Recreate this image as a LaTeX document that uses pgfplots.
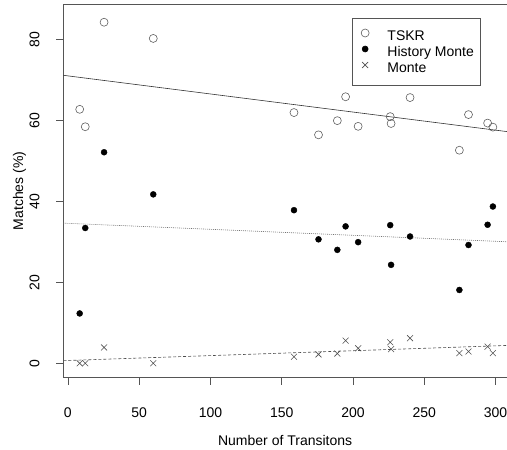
\documentclass[border=0pt]{standalone}
\usepackage{fontspec}
\setmainfont{Liberation Sans}
\usepackage{pgfplots}
\pgfplotsset{compat=1.18}

% point colours
\definecolor{circgray}{HTML}{606060}
\definecolor{crossgray}{HTML}{505050}
\definecolor{boxgray}{HTML}{555555}

\newcommand{\rfont}{\fontsize{14}{16}\selectfont}

\begin{document}
\begin{tikzpicture}
\useasboundingbox (-63.3pt,-72.3pt) rectangle (443.7pt,377.7pt);
\begin{axis}[
    at={(0,0)}, anchor=south west,
    scale only axis,
    width=443.7pt, height=373.7pt,
    xmin=-3.2, xmax=308,
    ymin=-3.56, ymax=88.7,
    xtick={0,50,...,300},
    ytick={0,20,...,80},
    tick pos=left,
    tick align=outside,
    major tick length=7pt,
    tick style={boxgray, line width=0.6pt},
    axis line style={boxgray, line width=0.8pt},
    /pgf/number format/assume math mode=true,
    ticklabel style={font=\rfont, inner sep=0pt},
    xticklabel style={anchor=base, yshift=-33pt},
    yticklabel style={xshift=-17pt, rotate=90, anchor=base},
    xlabel={Number of Transitons},
    ylabel={Matches (\%)},
    every axis x label/.style={at={(rel axis cs:0.5,0)}, anchor=base,
        yshift=-68.3pt, font=\rfont, inner sep=0pt},
    every axis y label/.style={at={(rel axis cs:0,0.5)}, xshift=-37pt,
        rotate=90, anchor=south, font=\rfont, inner sep=0pt},
    legend style={at={(rel axis cs:0.651,0.962)}, anchor=north west,
        draw=boxgray, line width=0.6pt, font=\rfont,
        inner xsep=6pt, inner ysep=10.5pt, row sep=3pt, column sep=0pt,
        nodes={inner sep=0pt, text height=10pt, text depth=3pt}},
    legend cell align=left,
    legend image code/.code={
        \path[draw=none, fill=none] (0pt,0pt) (29pt,0pt);
        \draw[#1] plot coordinates {(6.7pt,3.5pt)};},
]
% TSKR
\addplot[only marks, mark=o, mark size=4pt, circgray, line width=0.6pt] coordinates {
    (8.3,62.7) (12.2,58.4) (25.4,84.2) (59.9,80.2)
    (158.6,61.9) (175.8,56.4) (189,59.9) (194.8,65.8) (203.6,58.5)
    (226.1,60.9) (226.7,59.2) (240,65.6) (274.6,52.6) (281,61.4)
    (294.4,59.3) (298.1,58.3)
};
\addlegendentry{TSKR}
% History Monte
\addplot[only marks, mark=*, mark size=3pt, black] coordinates {
    (8.3,12.3) (12.2,33.4) (25.4,52.1) (59.9,41.7)
    (158.6,37.8) (175.8,30.6) (189,28.0) (194.8,33.8) (203.6,29.9)
    (226.1,34.1) (226.7,24.3) (240,31.3) (274.6,18.1) (281,29.2)
    (294.4,34.2) (298.1,38.7)
};
\addlegendentry{History Monte}
% Monte
\addplot[only marks, mark=x, mark size=4.2pt, crossgray, line width=0.6pt] coordinates {
    (8.3,0) (12.2,0) (25.4,3.9) (59.9,0)
    (158.6,1.6) (175.8,2.2) (189,2.4) (194.8,5.6) (203.6,3.7)
    (226.1,5.2) (226.7,3.5) (240,6.2) (274.6,2.5) (281,2.9)
    (294.4,4.1) (298.1,2.5)
};
\addlegendentry{Monte}
% fitted lines
\addplot[forget plot, black!80, line width=0.6pt] coordinates {(-3.2,71.1) (308,57.2)};
\addplot[forget plot, black!55, line width=0.6pt, dash pattern=on 1pt off 1pt] coordinates {(-3.2,34.6) (308,30.0)};
\addplot[forget plot, black!70, line width=0.6pt, dash pattern=on 3pt off 2pt] coordinates {(-3.2,0.65) (308,4.4)};
\end{axis}
\end{tikzpicture}
\end{document}
